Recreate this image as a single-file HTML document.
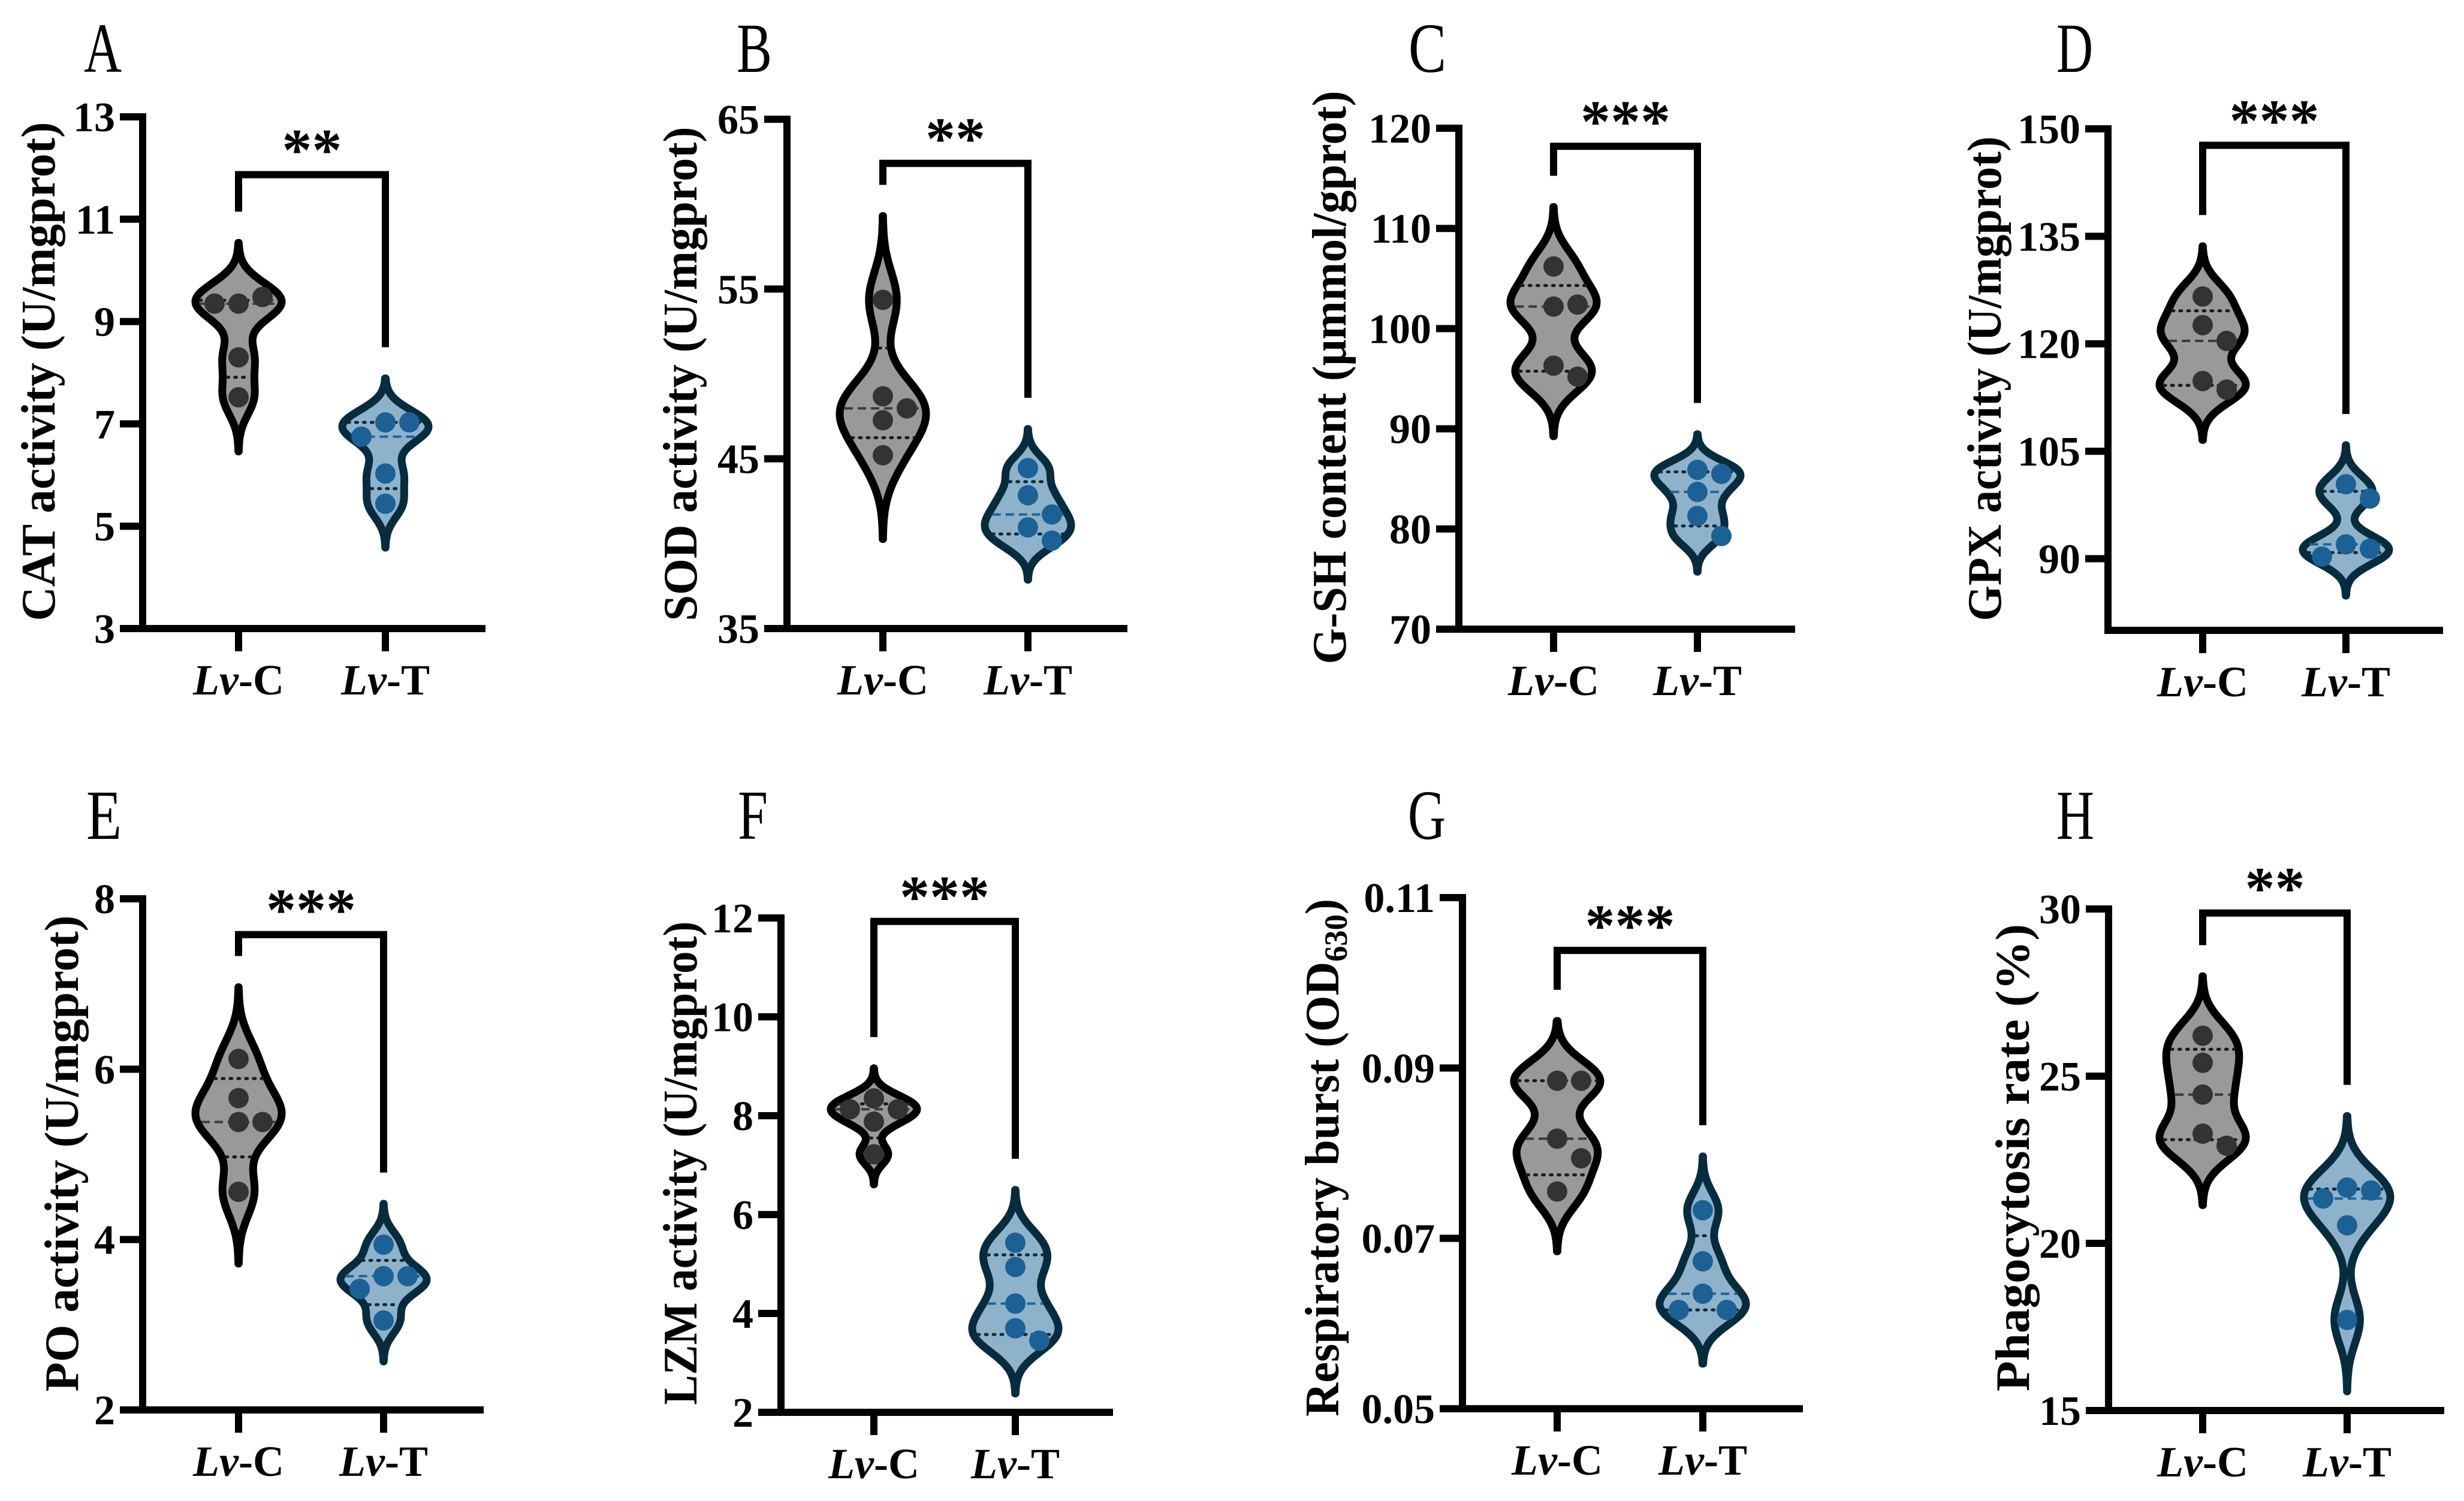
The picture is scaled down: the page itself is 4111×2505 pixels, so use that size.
<!DOCTYPE html>
<html><head><meta charset="utf-8"><style>
html,body{margin:0;padding:0;background:#fff;}
svg{display:block;}
svg text{font-family:"Liberation Serif","Times New Roman",serif;}
</style></head><body>
<svg id="fig" width="4111" height="2505" viewBox="0 0 4111 2505" xmlns="http://www.w3.org/2000/svg"></svg>
<script>
const categories = ['Lv-C','Lv-T'];
const A_ctrl=[9.35,9.48,9.35,8.30,7.52];
const A_trt=[7.03,7.03,6.75,6.03,5.44];
const A_ticks=['3','5','7','9','11','13'];
const B_ctrl=[54.36,48.68,47.97,47.27,45.21];
const B_trt=[44.45,42.85,41.72,40.96,40.18];
const B_ticks=['35','45','55','65'];
const C_ctrl=[106.2,102.2,102.4,96.3,95.2];
const C_trt=[85.9,85.5,83.7,81.3,79.3];
const C_ticks=['70','80','90','100','110','120'];
const D_ctrl=[126.6,122.6,120.4,114.8,113.6];
const D_trt=[100.4,98.4,92.0,91.4,90.3];
const D_ticks=['90','105','120','135','150'];
const E_ctrl=[6.12,5.66,5.38,5.38,4.56];
const E_trt=[3.94,3.57,3.57,3.42,3.05];
const E_ticks=['2','4','6','8'];
const F_ctrl=[8.35,8.13,8.13,7.88,7.22];
const F_trt=[5.43,4.94,4.20,3.70,3.45];
const F_ticks=['2','4','6','8','10','12'];
const G_ctrl=[0.0885,0.0885,0.0817,0.0794,0.0755];
const G_trt=[0.0733,0.0673,0.0635,0.0616,0.0616];
const G_ticks=['0.05','0.07','0.09','0.11'];
const H_ctrl=[26.21,25.40,24.45,23.28,22.92];
const H_trt=[21.67,21.58,21.34,20.54,17.71];
const H_ticks=['15','20','25','30'];
const axisMin=[3,35,70,80,2,2,0.05,15];
const axisMax=[13,65,120,150,8,12,0.11,30];
const sigLabels=['**','**','***','***','***','***','***','**'];
const bracketVals=[11.87,62.4,118.2,147.7,7.58,11.93,0.1038,29.88];
const letters=['A','B','C','D','E','F','G','H'];

const ctrlSets=[A_ctrl,B_ctrl,C_ctrl,D_ctrl,E_ctrl,F_ctrl,G_ctrl,H_ctrl];
const trtSets=[A_trt,B_trt,C_trt,D_trt,E_trt,F_trt,G_trt,H_trt];
const tickSets=[A_ticks,B_ticks,C_ticks,D_ticks,E_ticks,F_ticks,G_ticks,H_ticks];

const layout=[
 {ax:238,top:195,bottom:1049,c1:398,c2:643,end:810,lx:140,lw:63,lb:120,tx:91,ty:620,tl:833,title:'CAT activity (U/mgprot)'},
 {ax:1313,top:199,bottom:1049,c1:1473,c2:1715,end:1881,lx:1229,lw:59,lb:120,tx:1162,ty:624,tl:825,title:'SOD activity (U/mgprot)'},
 {ax:2434,top:214,bottom:1050,c1:2592,c2:2832,end:2995,lx:2350,lw:63,lb:120,tx:2245,ty:630,tl:957,title:'G-SH content (μmmol/gprot)'},
 {ax:3517,top:215,bottom:1052,c1:3675,c2:3914,end:4076,lx:3431,lw:61,lb:120,tx:3338,ty:632,tl:809,title:'GPX activity (U/mgprot)',noMinTick:true},
 {ax:238,top:1500,bottom:2353,c1:398,c2:640,end:807,lx:144,lw:59,lb:1400,tx:130,ty:1925,tl:795,title:'PO activity (U/mgprot)'},
 {ax:1303,top:1532,bottom:2357,c1:1458,c2:1694,end:1857,lx:1231,lw:50,lb:1400,tx:1162,ty:1941,tl:807,title:'LZM activity (U/mgprot)'},
 {ax:2440,top:1498,bottom:2351,c1:2598,c2:2841,end:3008,lx:2349,lw:63,lb:1400,tx:2233,ty:1932,tl:864,title:'Respiratory burst (OD',sub:'630',after:')'},
 {ax:3518,top:1517,bottom:2354,c1:3675,c2:3916,end:4078,lx:3431,lw:63,lb:1400,tx:3385,ty:1932,tl:780,title:'Phagocytosis rate  (%)'}
];

const NS='http://www.w3.org/2000/svg';
const FF='"Liberation Serif","Times New Roman",serif';
const svg=document.getElementById('fig');
function mk(tag,attrs,parent){const e=document.createElementNS(NS,tag);for(const k in attrs)e.setAttribute(k,attrs[k]);if(tag==='text')e.setAttribute('font-family',FF);(parent||svg).appendChild(e);return e;}

function quart(v){const s=[...v].sort((a,b)=>a-b);return [(s[0]+s[1])/2,s[2],(s[3]+s[4])/2];}

function drawViolin(g,vals,cx,yScale,pal,kind){
  const mn=Math.min(...vals),mx=Math.max(...vals);
  const h=0.18*(mx-mn)||0.01;
  const lo=mn-3*h,hi=mx+3*h,N=120;
  const ys=[],ds=[];
  for(let i=0;i<=N;i++){const y=hi-(hi-lo)*i/N;let d=0;for(const v of vals)d+=Math.exp(-0.5*((y-v)/h)**2);ys.push(y);ds.push(d);}
  const dmax=Math.max(...ds);
  const W=72;
  const wAt=y=>{let d=0;for(const v of vals)d+=Math.exp(-0.5*((y-v)/h)**2);return W*d/dmax;};
  let p='';
  for(let i=0;i<=N;i++){p+=(i?'L':'M')+(cx+W*ds[i]/dmax).toFixed(1)+','+yScale(ys[i]).toFixed(1);}
  for(let i=N;i>=0;i--){p+='L'+(cx-W*ds[i]/dmax).toFixed(1)+','+yScale(ys[i]).toFixed(1);}
  p+='Z';
  const path=mk('path',{d:p,fill:pal.fill,stroke:pal.stroke,'stroke-width':13,'stroke-linejoin':'round'},g);
  
  
  const q=quart(vals);
  q.forEach((qv,i)=>{
    const w=Math.max(wAt(qv)-7,4),y=yScale(qv);
    const l=mk('line',{x1:cx-w,x2:cx+w,y1:y,y2:y,stroke:i===1?pal.med:pal.q,'stroke-width':i===1?4:5,'stroke-dasharray':i===1?'14 8':'3 10','stroke-linecap':i===1?'butt':'round'},g);
    
    
  });
  const r=17,placed=[];
  vals.forEach(v=>{
    const y=yScale(v);const cands=[0];for(let k=1;k<6;k++){cands.push(k*40,-k*40);}
    let x=0;for(const c of cands){if(placed.every(p=>Math.hypot(p[0]-c,p[1]-y)>=2*r)){x=c;break;}}
    placed.push([x,y]);
    const c=mk('circle',{cx:cx+x,cy:y,r:r,fill:pal.pt},g);
    
    
  });
  return yScale(hi);
}

const palC={fill:'#999999',stroke:'#000000',pt:'#333333',med:'#3a3a3a',q:'#1a1a1a'};
const palT={fill:'#8fb2cb',stroke:'#062c3e',pt:'#1b6195',med:'#1f6496',q:'#0d2b3c'};

layout.forEach((L,i)=>{
  const g=mk('g',{});
  
  
  const y0=axisMin[i],y1=axisMax[i];
  const yScale=v=>L.bottom-(v-y0)/(y1-y0)*(L.bottom-L.top);
  const lt=mk('text',{x:L.lx,y:L.lb,'font-size':118,textLength:L.lw,lengthAdjust:'spacingAndGlyphs'},g);
  lt.textContent=letters[i];
  
  
  const ya=mk('line',{x1:L.ax,x2:L.ax,y1:L.top-6,y2:L.bottom+6,stroke:'#000','stroke-width':12},g);
  
  
  const xa=mk('line',{x1:L.noMinTick?L.ax-6:L.ax-38,x2:L.end,y1:L.bottom,y2:L.bottom,stroke:'#000','stroke-width':12},g);
  
  
  tickSets[i].forEach(t=>{
    const v=parseFloat(t),y=yScale(v);
    const tl=mk('line',{x1:L.ax-38,x2:L.ax,y1:y,y2:y,stroke:'#000','stroke-width':12},g);
    
    
    const tx=mk('text',{x:L.ax-46,y:y+24,'text-anchor':'end','font-size':70,'font-weight':'bold'},g);
    tx.textContent=t;
    
    
  });
  const tt=mk('text',{transform:`translate(${L.tx},${L.ty}) rotate(-90)`,'text-anchor':'middle','font-size':80,'font-weight':'bold',textLength:L.tl,lengthAdjust:'spacingAndGlyphs'},g);
  
  
  if(L.sub){
    tt.appendChild(document.createTextNode(L.title));
    const s=mk('tspan',{'font-size':54,dy:14},tt);s.textContent=L.sub;
    const a=mk('tspan',{dy:-14},tt);a.textContent=L.after;
  } else tt.textContent=L.title;
  [L.c1,L.c2].forEach((cx,k)=>{
    const bt=mk('line',{x1:cx,x2:cx,y1:L.bottom,y2:L.bottom+38,stroke:'#000','stroke-width':12},g);
    
    
    const ct=mk('text',{x:cx,y:L.bottom+110,'text-anchor':'middle','font-size':72,'font-weight':'bold'},g);
    
    
    const it=mk('tspan',{'font-style':'italic'},ct);it.textContent=categories[k].split('-')[0];
    ct.appendChild(document.createTextNode('-'+categories[k].split('-')[1]));
  });
  const topC=drawViolin(g,ctrlSets[i],L.c1,yScale,palC,'control');
  const topT=drawViolin(g,trtSets[i],L.c2,yScale,palT,'treated');
  const by=yScale(bracketVals[i]);
  const br=mk('path',{d:`M${L.c1},${topC-52}V${by}H${L.c2}V${topT-52}`,fill:'none',stroke:'#000','stroke-width':12},g);
  
  
  const st=mk('text',{x:(L.c1+L.c2)/2,y:by-8,'text-anchor':'middle','font-size':100,'font-weight':'bold'},g);
  st.textContent=sigLabels[i];
  
  
});
</script>
</body></html>
